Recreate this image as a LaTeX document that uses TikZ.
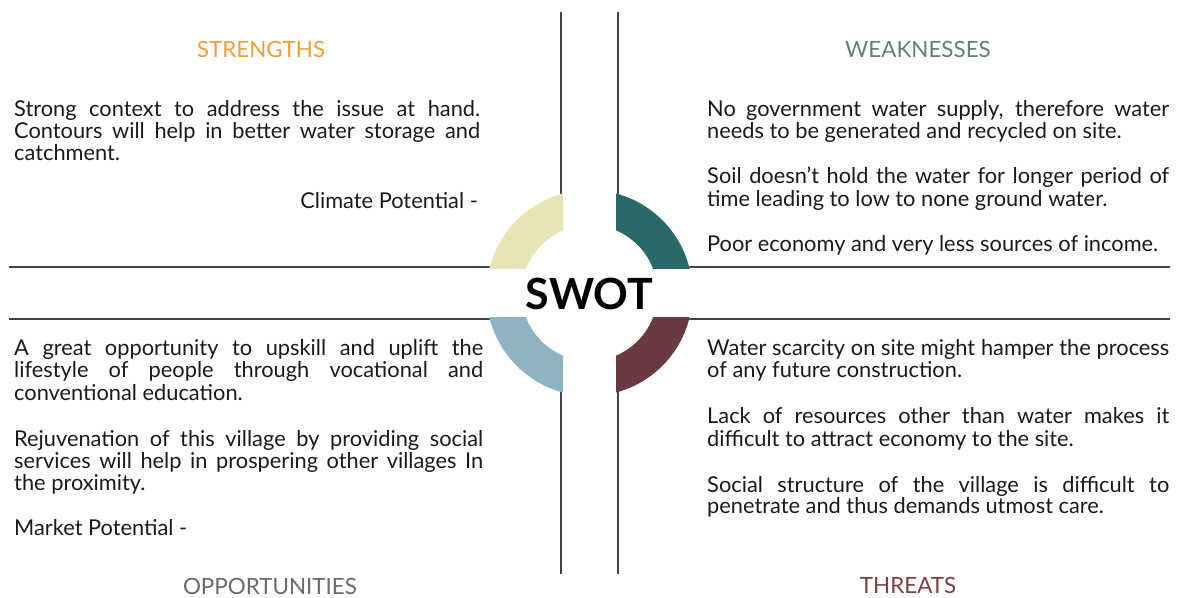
\documentclass[tikz,border=0pt]{standalone}
\usepackage{fontspec}
\setmainfont{Lato}
\definecolor{cS}{HTML}{E8E4B6}
\definecolor{cW}{HTML}{2B6868}
\definecolor{cO}{HTML}{8FB4C1}
\definecolor{cT}{HTML}{6A3A40}
\definecolor{hS}{HTML}{E9A23B}
\definecolor{hW}{HTML}{5F817F}
\definecolor{hO}{HTML}{6B6B6B}
\definecolor{hT}{HTML}{7B3F45}
\definecolor{txt}{HTML}{1A1A1A}
\definecolor{rulec}{HTML}{444444}
\newcommand\jl[2]{\makebox[#1pt][s]{#2}}
\begin{document}
\begin{tikzpicture}[x=1pt,y=-1pt,
  body/.style={inner sep=0pt, font=\fontsize{21.8}{26}\selectfont, text=txt},
  head/.style={inner sep=0pt, font=\fontsize{22.4}{26}\selectfont},
  rulestyle/.style={draw=rulec, line width=1.8pt}]
\useasboundingbox (0,0) rectangle (1177,597);
% axis lines
\coordinate (v1t) at (561,12); \coordinate (v1b) at (561,574);
\coordinate (v2t) at (618,12); \coordinate (v2b) at (618,574);
\coordinate (h1l) at (9,267);  \coordinate (h1r) at (1170,267);
\coordinate (h2l) at (9,319);  \coordinate (h2r) at (1170,319);
\draw[rulestyle] (v1t) -- (v1b);
\draw[rulestyle] (v2t) -- (v2b);
\draw[rulestyle] (h1l) -- (h1r);
\draw[rulestyle] (h2l) -- (h2r);
% ring
\coordinate (c) at (589.5,293);
\fill[white] (c) circle (103pt);
\begin{scope}\clip (480,185) rectangle (563,268);
  \fill[cS,even odd rule] (c) circle (103pt) circle (68pt);\end{scope}
\begin{scope}\clip (616,185) rectangle (700,268);
  \fill[cW,even odd rule] (c) circle (103pt) circle (68pt);\end{scope}
\begin{scope}\clip (480,317) rectangle (563,400);
  \fill[cO,even odd rule] (c) circle (103pt) circle (68pt);\end{scope}
\begin{scope}\clip (616,317) rectangle (700,400);
  \fill[cT,even odd rule] (c) circle (103pt) circle (68pt);\end{scope}
\node[inner sep=0pt, anchor=base, font=\fontsize{43}{48}\selectfont\bfseries, text=black] (swot) at (589.5,309) {SWOT};
% headings
\node[head, text=hS, anchor=base] (hs) at (261,57) {STRENGTHS};
\node[head, text=hW, anchor=base] (hw) at (918,57) {WEAKNESSES};
\node[head, text=hO, anchor=base] (ho) at (270,594) {OPPORTUNITIES};
\node[head, text=hT, anchor=base] (ht) at (908,593) {THREATS};
% strengths
\node[body, anchor=base west] (s1) at (14,116) {\jl{466}{Strong context to address the issue at hand.}};
\node[body, anchor=base west] (s2) at (14,138) {\jl{466}{Contours will help in better water storage and}};
\node[body, anchor=base west] (s3) at (14,160) {catchment.};
\node[body, anchor=base east] (s4) at (478,208) {Climate Potential -};
% weaknesses
\node[body, anchor=base west] (w1) at (707,116) {\jl{462}{No government water supply, therefore water}};
\node[body, anchor=base west] (w2) at (707,138) {needs to be generated and recycled on site.};
\node[body, anchor=base west] (w3) at (707,183) {\jl{462}{Soil doesn’t hold the water for longer period of}};
\node[body, anchor=base west] (w4) at (707,206) {time leading to low to none ground water.};
\node[body, anchor=base west] (w5) at (707,251) {Poor economy and very less sources of income.};
% opportunities
\node[body, anchor=base west] (o1) at (14,355) {\jl{469}{A great opportunity to upskill and uplift the}};
\node[body, anchor=base west] (o2) at (14,377) {\jl{469}{lifestyle of people through vocational and}};
\node[body, anchor=base west] (o3) at (14,400) {conventional education.};
\node[body, anchor=base west] (o4) at (14,446) {\jl{469}{Rejuvenation of this village by providing social}};
\node[body, anchor=base west] (o5) at (14,468) {\jl{469}{services will help in prospering other villages In}};
\node[body, anchor=base west] (o6) at (14,490) {the proximity.};
\node[body, anchor=base west] (o7) at (14,535) {Market Potential -};
% threats
\node[body, anchor=base west] (t1) at (707,355) {\jl{462}{Water scarcity on site might hamper the process}};
\node[body, anchor=base west] (t2) at (707,377) {of any future construction.};
\node[body, anchor=base west] (t3) at (707,423) {\jl{462}{Lack of resources other than water makes it}};
\node[body, anchor=base west] (t4) at (707,446) {difficult to attract economy to the site.};
\node[body, anchor=base west] (t5) at (707,492) {\jl{462}{Social structure of the village is difficult to}};
\node[body, anchor=base west] (t6) at (707,513) {penetrate and thus demands utmost care.};
\end{tikzpicture}
\end{document}
